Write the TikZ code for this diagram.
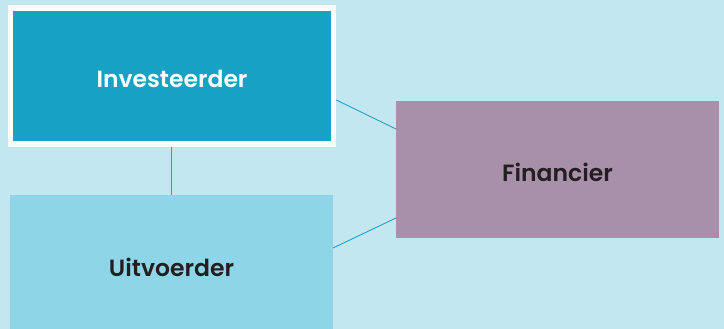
\documentclass[tikz,border=0pt]{standalone}
\usepackage{fontspec}
\setmainfont{Poppins}[BoldFont={Poppins SemiBold}]
\definecolor{bgc}{HTML}{C2E7F0}
\definecolor{invc}{HTML}{16A2C4}
\definecolor{uitc}{HTML}{8FD5E8}
\definecolor{finc}{HTML}{A890AB}
\definecolor{linec}{HTML}{1BA3C6}
\definecolor{txtc}{HTML}{231F20}
\tikzset{
  box/.style={rectangle, inner sep=0pt, outer sep=0pt, minimum width=323pt,
    font=\fontsize{23.5}{26}\selectfont\bfseries, text=txtc},
  lowtext/.style={text height=24pt, text depth=0pt},
  conn/.style={draw=linec, line width=0.9pt}
}
\begin{document}
\begin{tikzpicture}[x=1pt,y=1pt]
\clip (0,0) rectangle (724,329);
\fill[bgc] (0,0) rectangle (724,329);
\node[box, lowtext, fill=invc, draw=white, line width=5.5pt, minimum height=136pt, text=white, outer sep=2.75pt] (inv) at (172,253) {Investeerder};
\node[box, fill=uitc, minimum height=144pt] (uit) at (171.5,62) {Uitvoerder};
\node[box, lowtext, fill=finc, minimum height=137pt] (fin) at (557.5,159.5) {Financier};
\draw[conn] (inv.south -| 171,0) -- (uit.north -| 171,0);
\draw[conn] ([yshift=-24pt]inv.east) -- ([yshift=40.5pt]fin.west);
\draw[conn] ([yshift=19pt]uit.east) -- ([yshift=-48.5pt]fin.west);
\end{tikzpicture}
\end{document}
